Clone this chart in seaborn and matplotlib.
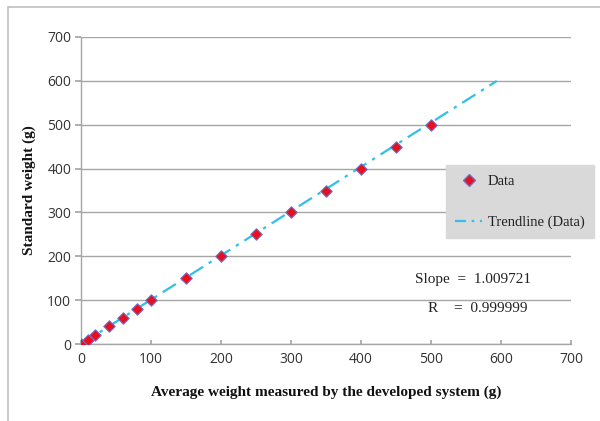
import matplotlib
matplotlib.use("Agg")
import matplotlib.pyplot as plt
import seaborn as sns
import numpy as np
import pandas as pd
from matplotlib.lines import Line2D

measured = [0, 10, 20, 40, 60, 80, 100, 150, 200, 250, 300, 350, 400, 450, 500]
standard = [0, 10, 20, 40, 60, 80, 100, 150, 200, 250, 300, 350, 400, 450, 500]
slope = 1.009721
r_value = 0.999999
trend_x = [0, 594]
axis_ticks = [0, 100, 200, 300, 400, 500, 600, 700]

sns.set_theme(style="white")
plt.rcParams['font.family'] = ['Liberation Serif', 'DejaVu Serif']

fig = plt.figure(figsize=(6.0, 4.21), dpi=100)
ax = fig.add_axes([81/600, 1-344/421, 490/600, 307/421])

df = pd.DataFrame({"x": measured, "y": standard})
trend = pd.DataFrame({"x": trend_x, "y": [v * slope for v in trend_x]})

sns.lineplot(data=trend, x="x", y="y", ax=ax, color="#33bfe8", lw=1.6,
             dashes=False, linestyle=(0, (7, 3, 1.5, 3)), zorder=2)
sns.scatterplot(data=df, x="x", y="y", ax=ax, marker="D", s=34,
                color="#e8101e", edgecolor="#7070c8", linewidth=0.8, zorder=3)

ax.set_xlim(0, 700)
ax.set_ylim(0, 700)
ax.set_xticks(axis_ticks)
ax.set_yticks(axis_ticks)
ax.yaxis.grid(True, color="#a6a6a6", lw=1.0)
ax.xaxis.grid(False)
for s in ["top", "right"]:
    ax.spines[s].set_visible(False)
for s in ["left", "bottom"]:
    ax.spines[s].set_color("#a6a6a6")
    ax.spines[s].set_linewidth(1.0)
ax.tick_params(axis="x", direction="in", length=3, color="#a6a6a6", pad=6,
               bottom=True, labelsize=10, labelcolor="#333333")
ax.tick_params(axis="y", direction="out", length=4, color="#a6a6a6", pad=3,
               left=True, labelsize=10, labelcolor="#333333")
for lab in ax.get_xticklabels() + ax.get_yticklabels():
    lab.set_fontfamily(['Open Sans', 'DejaVu Sans'])

ax.set_xlabel("Average weight measured by the developed system (g)",
              fontsize=11, fontweight="bold", labelpad=13, color="#111111")
ax.set_ylabel("Standard weight (g)", fontsize=11, fontweight="bold",
              labelpad=8, color="#111111")

handles = [
    Line2D([], [], marker="D", color="none", markerfacecolor="#e8101e",
           markeredgecolor="#7070c8", markersize=6),
    Line2D([], [], color="#33bfe8", lw=1.6, linestyle=(0, (5, 2.5, 1.2, 2.5))),
]
leg = ax.legend(handles, ["Data", "Trendline (Data)"], loc="upper left",
                bbox_to_anchor=(446/600, 1-165/421), bbox_transform=fig.transFigure,
                frameon=True, fancybox=False, facecolor="#d9d9d9", edgecolor="#d9d9d9",
                framealpha=1, fontsize=10.5, labelspacing=1.9, borderpad=0.65,
                borderaxespad=0, handlelength=1.8, handletextpad=0.4)
for t in leg.get_texts():
    t.set_color("#222222")

fig.text(415/600, 1-279/421, "Slope  =  1.009721", fontsize=11, color="#222222",
         va="center")
fig.text(428/600, 1-308/421, "R", fontsize=11, color="#222222", va="center")
fig.text(454/600, 1-308/421, "=  0.999999", fontsize=11, color="#222222", va="center")

fig.add_artist(Line2D([8/600, 8/600], [0, 1-7/421], transform=fig.transFigure,
                      color="#c0c0c0", lw=1.2))
fig.add_artist(Line2D([8/600, 1], [1-7/421, 1-7/421], transform=fig.transFigure,
                      color="#c0c0c0", lw=1.2))

fig.savefig("out.png", dpi=100)
